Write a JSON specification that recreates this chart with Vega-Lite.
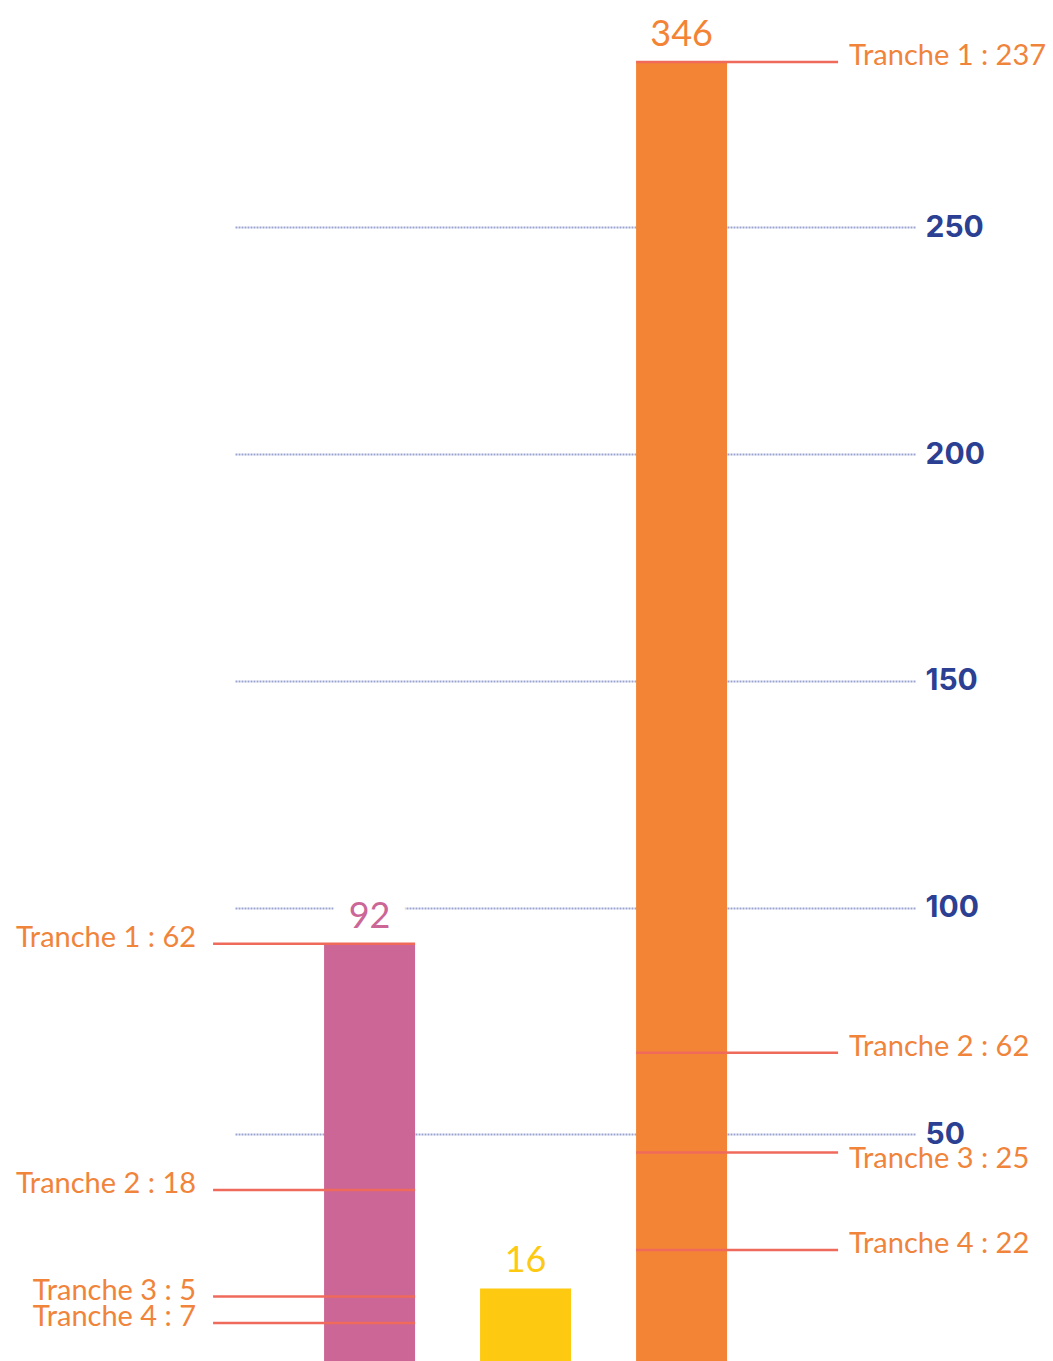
{
  "$schema": "https://vega.github.io/schema/vega-lite/v6.json",
  "width": 681,
  "height": 1299,
  "autosize": {"type": "none"},
  "padding": {"left": 234, "right": 138, "top": 62, "bottom": 0},
  "background": "white",
  "config": {
    "view": {"stroke": null},
    "font": "Lato",
    "axisY": {"orient": "right", "title": null, "domain": false, "ticks": false, "labelPadding": 10, "labelFont": "Inter", "labelFontSize": 30, "labelFontWeight": "bold", "labelColor": "#2b3f93", "grid": true, "gridColor": "#9aa4d2", "gridWidth": 2, "gridDash": [2, 1]}
  },
  "datasets": {
    "barres": [
      {"serie": "Série 1", "valeur": 92},
      {"serie": "Série 2", "valeur": 16},
      {"serie": "Série 3", "valeur": 346}
    ],
    "tranches": [
      {"serie": "Série 1", "cote": "gauche", "libelle": "Tranche 1 : 62", "valeur": 62, "niveau": 92},
      {"serie": "Série 1", "cote": "gauche", "libelle": "Tranche 2 : 18", "valeur": 18, "niveau": 37.7},
      {"serie": "Série 1", "cote": "gauche", "libelle": "Tranche 3 : 5", "valeur": 5, "niveau": 14.2},
      {"serie": "Série 1", "cote": "gauche", "libelle": "Tranche 4 : 7", "valeur": 7, "niveau": 8.4},
      {"serie": "Série 3", "cote": "droite", "libelle": "Tranche 1 : 237", "valeur": 237, "niveau": 346},
      {"serie": "Série 3", "cote": "droite", "libelle": "Tranche 2 : 62", "valeur": 62, "niveau": 68},
      {"serie": "Série 3", "cote": "droite", "libelle": "Tranche 3 : 25", "valeur": 25, "niveau": 46},
      {"serie": "Série 3", "cote": "droite", "libelle": "Tranche 4 : 22", "valeur": 22, "niveau": 24.5}
    ]
  },
  "encoding": {
    "x": {"field": "serie", "type": "nominal", "scale": {"domain": ["Série 1", "Série 2", "Série 3"], "paddingInner": 0.4167, "paddingOuter": 0.891, "align": 0.324}, "axis": null}
  },
  "layer": [
    {
      "data": {"name": "barres"},
      "mark": {"type": "text", "fontSize": 36, "fill": "white", "stroke": "white", "strokeWidth": 34, "strokeJoin": "round", "baseline": "alphabetic", "align": "center", "dy": -16},
      "encoding": {
        "y": {"field": "valeur", "type": "quantitative", "scale": {"domain": [0, 286.5], "clamp": true, "nice": false, "zero": false}, "axis": {"values": [50, 100, 150, 200, 250]}},
        "text": {"field": "valeur", "type": "quantitative"}
      }
    },
    {
      "data": {"name": "barres"},
      "mark": {"type": "bar"},
      "encoding": {
        "y": {"field": "valeur", "type": "quantitative", "axis": {"values": [50, 100, 150, 200, 250]}},
        "color": {"field": "serie", "type": "nominal", "scale": {"domain": ["Série 1", "Série 2", "Série 3"], "range": ["#cb6697", "#fdc911", "#f38435"]}, "legend": null}
      }
    },
    {
      "data": {"name": "tranches"},
      "transform": [{"filter": "datum.cote == 'gauche'"}],
      "mark": {"type": "tick", "size": 202, "thickness": 2.5, "xOffset": -55.5, "color": "#ef6a5b", "opacity": 1},
      "encoding": {
        "y": {"field": "niveau", "type": "quantitative", "axis": {"values": [50, 100, 150, 200, 250]}}
      }
    },
    {
      "data": {"name": "tranches"},
      "transform": [{"filter": "datum.cote == 'droite'"}],
      "mark": {"type": "tick", "size": 202, "thickness": 2.5, "xOffset": 55.5, "color": "#ef6a5b", "opacity": 1},
      "encoding": {
        "y": {"field": "niveau", "type": "quantitative", "axis": {"values": [50, 100, 150, 200, 250]}}
      }
    },
    {
      "data": {"name": "tranches"},
      "transform": [{"filter": "datum.cote == 'gauche'"}],
      "mark": {"type": "text", "align": "right", "baseline": "alphabetic", "dx": -173.5, "dy": 3, "fontSize": 29, "color": "#f0843a"},
      "encoding": {
        "y": {"field": "niveau", "type": "quantitative", "axis": {"values": [50, 100, 150, 200, 250]}},
        "text": {"field": "libelle", "type": "nominal"}
      }
    },
    {
      "data": {"name": "tranches"},
      "transform": [{"filter": "datum.cote == 'droite' && datum.libelle != 'Tranche 3 : 25'"}],
      "mark": {"type": "text", "align": "left", "baseline": "alphabetic", "dx": 167.5, "dy": 3, "fontSize": 29, "color": "#f0843a"},
      "encoding": {
        "y": {"field": "niveau", "type": "quantitative", "axis": {"values": [50, 100, 150, 200, 250]}},
        "text": {"field": "libelle", "type": "nominal"}
      }
    },
    {
      "data": {"name": "tranches"},
      "transform": [{"filter": "datum.libelle == 'Tranche 3 : 25'"}],
      "mark": {"type": "text", "align": "left", "baseline": "alphabetic", "dx": 167.5, "dy": 16, "fontSize": 29, "color": "#f0843a"},
      "encoding": {
        "y": {"field": "niveau", "type": "quantitative", "axis": {"values": [50, 100, 150, 200, 250]}},
        "text": {"field": "libelle", "type": "nominal"}
      }
    },
    {
      "data": {"name": "barres"},
      "mark": {"type": "text", "fontSize": 36, "baseline": "alphabetic", "align": "center", "dy": -16},
      "encoding": {
        "y": {"field": "valeur", "type": "quantitative", "axis": {"values": [50, 100, 150, 200, 250]}},
        "text": {"field": "valeur", "type": "quantitative"},
        "color": {"field": "serie", "type": "nominal", "legend": null}
      }
    }
  ]
}
